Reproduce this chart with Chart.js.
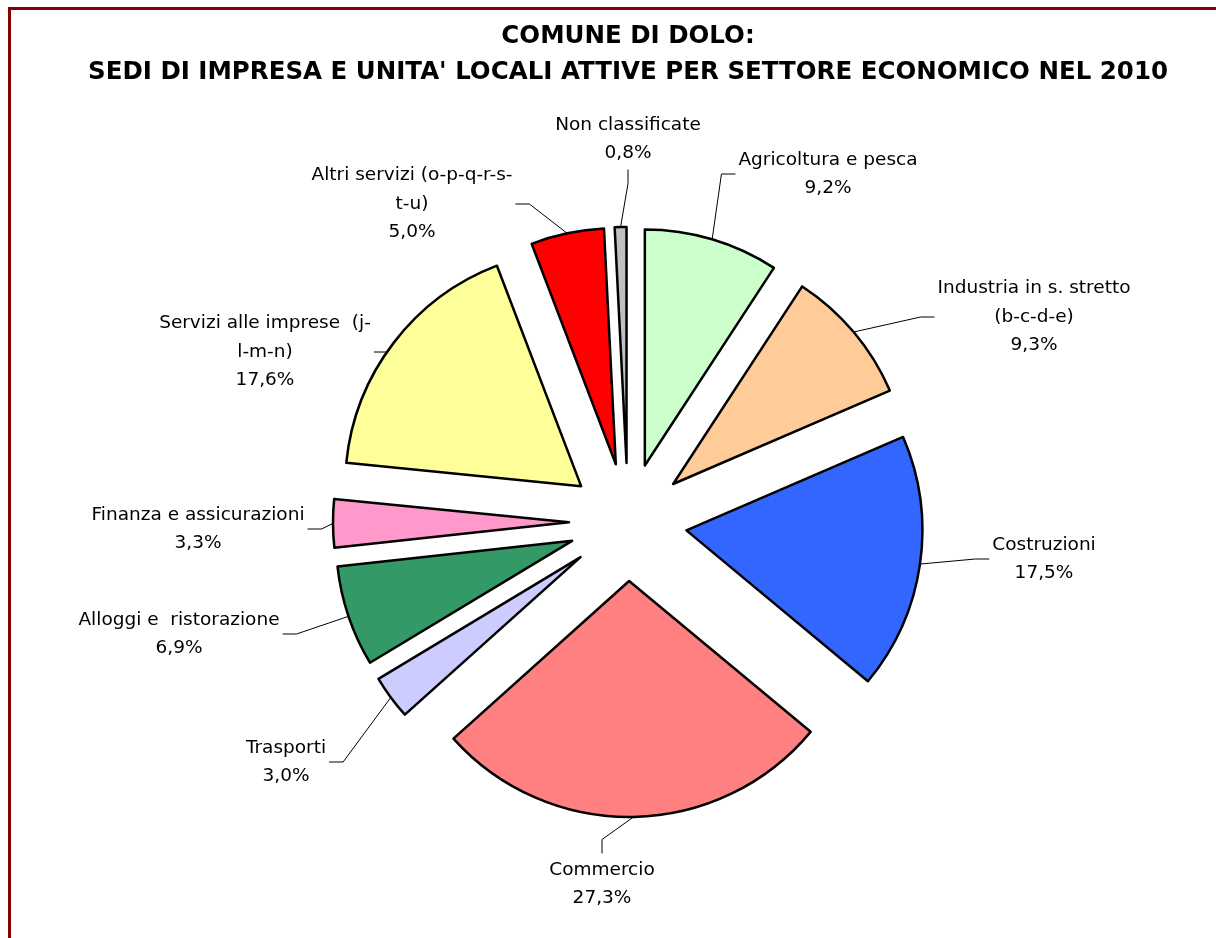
<!DOCTYPE html>
<html>
<head>
<meta charset="utf-8">
<title>Comune di Dolo - sedi di impresa 2010</title>
<script src="https://cdn.jsdelivr.net/npm/chart.js@4.4.1/dist/chart.umd.min.js"></script>
<style>
  html, body { margin: 0; padding: 0; background: #fff; }
  canvas { display: block; }
</style>
</head>
<body>
<canvas id="pieChart" width="1216" height="938"></canvas>
<script>
// settori economici, in senso orario dalle ore 12
var sectors = [
  'Agricoltura e pesca',
  ['Industria in s. stretto', '(b-c-d-e)'],
  'Costruzioni',
  'Commercio',
  'Trasporti',
  'Alloggi e  ristorazione',
  'Finanza e assicurazioni',
  ['Servizi alle imprese  (j-', 'l-m-n)'],
  ['Altri servizi (o-p-q-r-s-', 't-u)'],
  'Non classificate'
];

// quota % sul totale delle unita' attive
var shares = [9.2, 9.3, 17.5, 27.3, 3.0, 6.9, 3.3, 17.6, 5.0, 0.8];

var sliceColors = ['#CCFFCC', '#FFCC99', '#3366FF', '#FF8080', '#CCCCFF',
                   '#339966', '#FF99CC', '#FFFF99', '#FF0000', '#C0C0C0'];

// centre of each label block, measured from the pie centre (px)
var labelSpots = [[200, -348], [406, -205], [416, 37], [-26, 362], [-342, 240],
                  [-449, 112], [-430, 7], [-363, -170], [-216, -318], [0, -383]];

var FONT = "'DejaVu Sans', sans-serif";
var LABEL_SIZE = 18.5;
var LINE_H = 28.5;
var EXPLODE = 59;   // distance every slice is pulled out
var RADIUS = 236;

function pct(v) {
  return v.toFixed(1).replace('.', ',') + '%';
}

// dark red frame on the left and top edges
var frame = {
  id: 'frame',
  beforeDraw: function(chart) {
    var ctx = chart.ctx;
    ctx.save();
    ctx.fillStyle = '#880000';
    ctx.fillRect(8, 7, 3, chart.height - 7);
    ctx.fillRect(8, 7, chart.width - 8, 3);
    ctx.restore();
  }
};

// pull every slice out along its mid angle (chart.js offset also grows small slices)
var explode = {
  id: 'explode',
  afterDatasetUpdate: function(chart, args) {
    args.meta.data.forEach(function(arc) {
      var mid = (arc.startAngle + arc.endAngle) / 2;
      arc.x += Math.cos(mid) * EXPLODE;
      arc.y += Math.sin(mid) * EXPLODE;
    });
  }
};

// name + percentage outside the pie, with an elbow leader line
var sliceLabels = {
  id: 'sliceLabels',
  afterDatasetsDraw: function(chart) {
    var ctx = chart.ctx;
    var meta = chart.getDatasetMeta(0);
    var area = chart.chartArea;
    var cx = (area.left + area.right) / 2;
    var cy = (area.top + area.bottom) / 2;

    ctx.save();
    ctx.font = LABEL_SIZE + 'px ' + FONT;
    ctx.fillStyle = '#000';
    ctx.strokeStyle = '#000';
    ctx.lineWidth = 1;
    ctx.textAlign = 'center';
    ctx.textBaseline = 'middle';

    meta.data.forEach(function(arc, i) {
      var lines = [].concat(sectors[i], [pct(shares[i])]);
      var w = 0;
      lines.forEach(function(l) { w = Math.max(w, ctx.measureText(l).width); });
      var h = lines.length * LINE_H;
      var bx = cx + labelSpots[i][0];
      var by = cy + labelSpots[i][1];

      var mid = (arc.startAngle + arc.endAngle) / 2;
      var px = arc.x + Math.cos(mid) * arc.outerRadius;
      var py = arc.y + Math.sin(mid) * arc.outerRadius;

      var ex, ey, sx, sy;
      if (bx - w / 2 > px) {
        ex = bx - w / 2 - 3; ey = by; sx = ex - 14; sy = ey;
      } else if (bx + w / 2 < px) {
        ex = bx + w / 2 + 3; ey = by; sx = ex + 14; sy = ey;
      } else if (by + h / 2 < py) {
        ex = bx; ey = by + h / 2 + 2; sx = ex; sy = ey + 14;
      } else {
        ex = bx; ey = by - h / 2 - 2; sx = ex; sy = ey - 14;
      }
      ctx.beginPath();
      ctx.moveTo(px, py);
      ctx.lineTo(sx, sy);
      ctx.lineTo(ex, ey);
      ctx.stroke();

      lines.forEach(function(l, j) {
        ctx.fillText(l, bx, by - h / 2 + LINE_H * (j + 0.5));
      });
    });
    ctx.restore();
  }
};

var chart1 = new Chart(document.getElementById('pieChart').getContext('2d'), {
  type: 'pie',
  data: {
    labels: sectors,
    datasets: [{
      data: shares,
      backgroundColor: sliceColors,
      borderColor: '#000',
      borderWidth: 2.5,
      borderJoinStyle: 'round',
      radius: RADIUS
    }]
  },
  options: {
    responsive: false,
    animation: false,
    devicePixelRatio: 1,
    layout: {
      padding: { top: 18, left: 40, right: 0, bottom: 0 }
    },
    plugins: {
      legend: { display: false },
      tooltip: { enabled: false },
      title: {
        display: true,
        text: ['COMUNE DI DOLO:', "SEDI DI IMPRESA E UNITA' LOCALI ATTIVE PER SETTORE ECONOMICO NEL 2010"],
        color: '#000',
        font: { family: FONT, size: 24.5, weight: 'bold', lineHeight: 1.5 },
        padding: { top: 0, bottom: 14.5 }
      }
    }
  },
  plugins: [frame, explode, sliceLabels]
});
</script>
</body>
</html>
